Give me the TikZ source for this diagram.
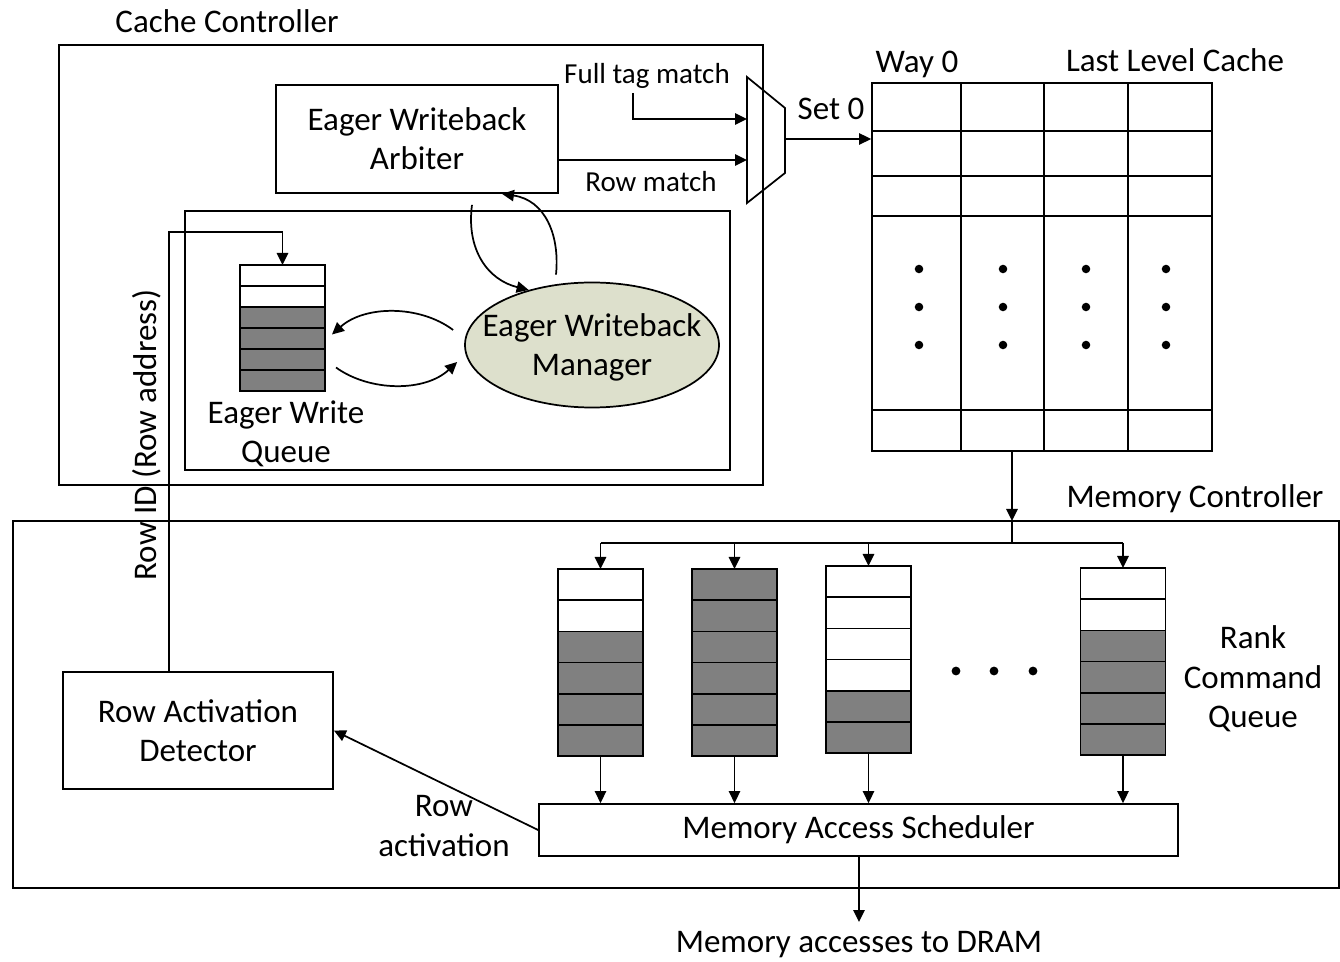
\documentclass[tikz,border=0pt]{standalone}
\usepackage{fontspec}
\setmainfont{Carlito}
\usetikzlibrary{arrows.meta,shapes.geometric}
\definecolor{mgrfill}{HTML}{DDE0CC}
\newcommand\figfont{\fontsize{24.75}{29.5}\selectfont}
\newcommand\figsmall{\fontsize{21.75}{26}\selectfont}
\tikzset{
  box/.style={draw, align=center, inner sep=0pt},
  cell/.style={draw, minimum width=63.75pt, inner sep=0pt, outer sep=0pt},
  arr/.style={-{Triangle[length=9pt,width=8.5pt]}},
  lbl/.style={align=center, inner sep=0pt},
}
\begin{document}
\begin{tikzpicture}[x=0.75pt, y=-0.75pt, font=\figfont, line width=1.3pt]
  \useasboundingbox (0,0) rectangle (1340,962);

  % cache controller
  \draw (59,45) rectangle (763,485);
  \node[lbl] (cclbl) at (227,21) {Cache Controller};
  \draw (185,211) rectangle (730,470);
  \node[box, minimum width=211.5pt, minimum height=81pt] (arb) at (417,139) {Eager Writeback\\Arbiter};
  \node[ellipse, draw, fill=mgrfill, minimum width=190.5pt, minimum height=93.75pt, inner sep=0pt] (mgr) at (592,345) {};
  \node[lbl] (mgrtxt) at ([yshift=-2pt]mgr.center) {Eager Writeback\\Manager};

  % eager write queue
  \foreach \i in {1,...,6}{
    \pgfmathtruncatemacro\shade{\i>2 ? 50 : 0}
    \node[cell, minimum height=15.75pt, fill=black!\shade] (ew-\i) at ({282.5},{265+21*(\i-0.5)}) {};
  }
  \node[lbl] (ewlbl) at (286,434) {Eager Write\\Queue};

  \draw[arr] ([shift={(55,11)}]arb.south) .. controls (466,250) and (488,280) .. (mgr.139);
  \draw[arr] ([shift={(-36,-7)}]mgr.north) .. controls (560,235) and (545,200) .. ([shift={(85,0)}]arb.south);
  \draw[arr] ([shift={(-11,-15)}]mgr.west) .. controls (420,305) and (365,305) .. ([shift={(7,-4)}]ew-4.east);
  \draw[arr] ([shift={(11,8)}]ew-5.east) .. controls (370,392) and (425,392) .. ([shift={(-7,17)}]mgr.west);

  % mux
  \draw (747,77) -- (785,108) -- (785,173) -- (747,203) -- cycle;
  \coordinate (muxa) at (747,119);
  \coordinate (muxb) at (747,160);
  \coordinate (muxo) at (785,139);
  \coordinate (ftm) at (633,93);
  \draw[arr] (ftm) |- (muxa);
  \node[lbl, font=\figsmall] (ftmlbl) at (647,76) {Full tag match};
  \draw[arr] (arb.east |- muxb) -- (muxb);
  \node[lbl, font=\figsmall] (rmlbl) at (651,182) {Row match};

  % last level cache
  \node[draw, minimum width=255pt, minimum height=276pt, inner sep=0pt] (llc) at (1042,267) {};
  \foreach \cx in {961,1044,1128} \draw (\cx,83) -- (\cx,451);
  \foreach \ry in {131,176,216,410} \draw (872,\ry) -- (1212,\ry);
  \foreach \cx in {919,1003,1086,1166}
    \foreach \ry in {269,307,345} \fill (\cx,\ry) circle (3.2pt);
  \draw[arr] (muxo) -- (llc.west |- muxo);
  \node[lbl] (setlbl) at (831,109) {Set 0};
  \node[lbl] (waylbl) at (917,64) {Way 0};
  \node[lbl] (llclbl) at (1175,60) {Last Level Cache};

  % memory controller
  \draw (13,521) rectangle (1339,888);
  \node[lbl] (mclbl) at (1195,499) {Memory Controller};
  \coordinate (bus) at (1012,543);
  \draw[arr] (llc.south -| bus) -- (1012,521);
  \draw (1012,521) -- (bus);

  \foreach \q/\qx/\qy/\nw in {1/600.5/569/2, 2/734.5/569/0, 3/868.5/566/4, 4/1123/568/2}{
    \foreach \i in {1,...,6}{
      \pgfmathtruncatemacro\shade{\i>\nw ? 50 : 0}
      \node[cell, minimum height=23.4pt, fill=black!\shade] (q\q-\i) at ({\qx},{\qy+31.2*(\i-0.5)}) {};
    }
  }
  \node[box, minimum width=479.25pt, minimum height=39pt] (sched) at (858.5,830) {\raisebox{-2pt}{Memory Access Scheduler}};
  \draw (q1-1.north |- bus) -- (q4-1.north |- bus);
  \foreach \q in {1,...,4}{
    \draw[arr] (q\q-1.north |- bus) -- (q\q-1.north);
    \draw[arr] (q\q-6.south) -- (q\q-6.south |- sched.north);
  }
  \foreach \dx in {956,994,1033} \fill (\dx,671) circle (3.3pt);
  \node[lbl] (rcqlbl) at (1253,679) {Rank\\Command\\Queue};

  \coordinate (dram) at (859,922);
  \draw[arr] (sched.south -| dram) -- (dram);
  \node[lbl] (dramlbl) at (859,945) {Memory accesses to DRAM};

  % row activation detector
  \node[box, minimum width=202.5pt, minimum height=87.75pt] (det) at (198,730.5) {Row Activation\\Detector};
  \draw[arr] (sched.west) -- (det.east);
  \node[lbl] (ralbl) at (444,826) {Row\\activation};
  \coordinate (rid) at (169,232);
  \draw[arr] (rid |- det.north) -- (rid) -| (ew-1.north);
  \node[lbl, rotate=90] (ridlbl) at (147,435) {Row ID (Row address)};
\end{tikzpicture}
\end{document}
